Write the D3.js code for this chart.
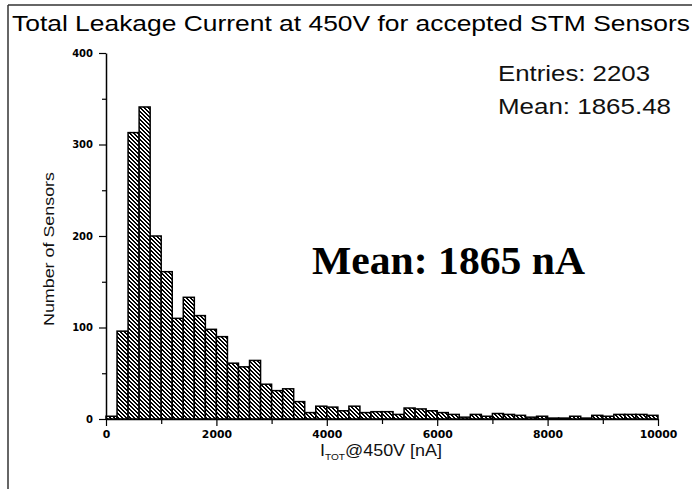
<!DOCTYPE html>
<html><head><meta charset="utf-8">
<script src="https://cdn.jsdelivr.net/npm/d3@7"></script>
<style>body{margin:0;background:#fff}svg{display:block}</style>
</head><body>
<svg id="c" width="692" height="489"></svg>
<script>
const title = "Total Leakage Current at 450V for accepted STM Sensors";
const binWidth = 200;
const binStarts = d3.range(0, 10000, binWidth);
const counts = [3,96,313,341,200,161,110,133,113,98,90,61,57,64,38,31,33,19,7,14,13,9,14,7,8,8,5,12,11,9,7,5,2,5,3,6,5,4,2,3,1,1,3,1,4,3,5,5,5,4];
const xTicks = [0,2000,4000,6000,8000,10000];
const xMinor = [1000,3000,5000,7000,9000];
const yTicks = [0,100,200,300,400];
const yMinor = [50,150,250,350];
const statsLines = ["Entries: 2203","Mean: 1865.48"];
const annotation = "Mean: 1865 nA";
const yLabel = "Number of Sensors";

const svg = d3.select("#c");
const x = d3.scaleLinear().domain([0,10000]).range([106,658]);
const y = d3.scaleLinear().domain([0,400]).range([419,53]);

// frame
svg.append("line").attr("x1",8).attr("y1",5).attr("x2",692).attr("y2",5).attr("stroke","#333").attr("stroke-width",1.5);
svg.append("line").attr("x1",8).attr("y1",5).attr("x2",8).attr("y2",489).attr("stroke","#333").attr("stroke-width",1.5);

// crisp hatch pattern ("\" direction)
const defs = svg.append("defs");
const pat = defs.append("pattern").attr("id","hatch").attr("patternUnits","userSpaceOnUse")
  .attr("x",0).attr("y",0).attr("width",4).attr("height",4);
pat.append("rect").attr("width",4).attr("height",4).attr("fill","#fff");
[0,1,2,3].forEach(r=>{
  pat.append("rect").attr("x",r).attr("y",r).attr("width",2).attr("height",1).attr("fill","#000").attr("shape-rendering","crispEdges");
});
pat.append("rect").attr("x",0).attr("y",3).attr("width",1).attr("height",1).attr("fill","#000").attr("shape-rendering","crispEdges");

const data = binStarts.map((s,i)=>({s, c:counts[i]}));
svg.append("g").selectAll("rect").data(data).join("rect")
  .attr("x", d=>x(d.s)).attr("width", d=>x(d.s+binWidth)-x(d.s))
  .attr("y", d=>y(d.c)).attr("height", d=>y(0)-y(d.c))
  .attr("fill","url(#hatch)").attr("stroke","#000").attr("stroke-width",1.5);

const tickFont = "DejaVu Sans, sans-serif";
// y axis
const gy = svg.append("g").attr("transform","translate(106,0)")
  .call(d3.axisLeft(y).tickValues(yTicks).tickSize(7).tickSizeOuter(0).tickPadding(6).tickFormat(d3.format("d")));
gy.append("g").call(d3.axisLeft(y).tickValues(yMinor).tickSize(4).tickFormat(""))
  .select(".domain").remove();
// x axis
const gx = svg.append("g").attr("transform","translate(0,419)")
  .call(d3.axisBottom(x).tickValues(xTicks).tickSize(7).tickSizeOuter(0).tickPadding(4).tickFormat(d3.format("d")));
gx.append("g").call(d3.axisBottom(x).tickValues(xMinor).tickSize(5).tickFormat(""))
  .select(".domain").remove();
svg.selectAll(".domain").attr("stroke","#000").attr("stroke-width",1.5);
svg.selectAll(".tick line").attr("stroke","#000").attr("stroke-width",1.2);
gy.selectAll("text").attr("font-family",tickFont).attr("font-weight","bold").attr("font-size",10).attr("fill","#000");
gx.selectAll("text").attr("font-family",tickFont).attr("font-weight","bold").attr("font-size",10.8).attr("fill","#000");

// title
svg.append("text").attr("x",12).attr("y",31).attr("font-family","Liberation Sans, Arial, sans-serif")
  .attr("font-size",22).attr("textLength",678).attr("lengthAdjust","spacingAndGlyphs").attr("fill","#000").text(title);

// stats text
const statsLens = [152,173];
statsLines.forEach((t,i)=>{
  svg.append("text").attr("x",498).attr("y",81+i*33).attr("font-family","Liberation Sans, Arial, sans-serif")
    .attr("font-size",22).attr("textLength",statsLens[i]).attr("lengthAdjust","spacingAndGlyphs").attr("fill","#111").text(t);
});

// annotation
svg.append("text").attr("x",312).attr("y",274).attr("font-family","Liberation Serif, Times New Roman, serif")
  .attr("font-weight","bold").attr("font-size",39).attr("textLength",273).attr("lengthAdjust","spacingAndGlyphs")
  .attr("fill","#000").text(annotation);

// y label
svg.append("text").attr("transform","translate(54,249) rotate(-90)").attr("text-anchor","middle")
  .attr("font-family","Liberation Sans, Arial, sans-serif").attr("font-size",15)
  .attr("textLength",154).attr("lengthAdjust","spacingAndGlyphs").attr("fill","#111").text(yLabel);

// x label
const xl = svg.append("text").attr("x",320).attr("y",456).attr("font-family","Liberation Sans, Arial, sans-serif")
  .attr("font-size",16).attr("textLength",122).attr("lengthAdjust","spacingAndGlyphs").attr("fill","#111");
xl.append("tspan").text("I");
xl.append("tspan").attr("font-size",9).attr("dy",4).text("TOT");
xl.append("tspan").attr("dy",-4).text("@450V [nA]");
</script>
</body></html>
